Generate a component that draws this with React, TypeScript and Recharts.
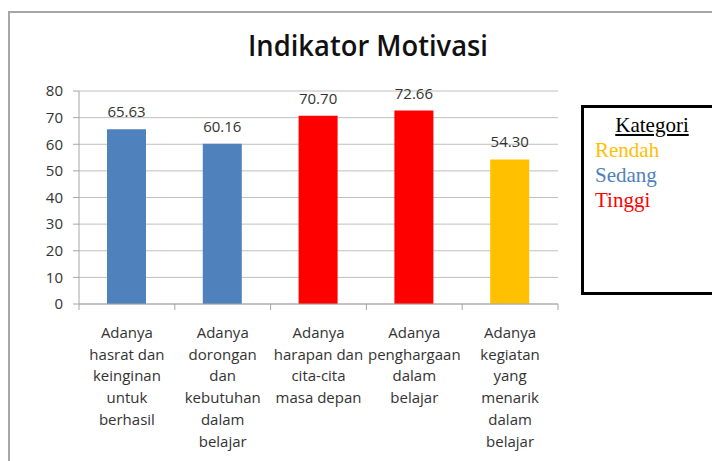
import React from 'react';
import { BarChart, Bar, XAxis, YAxis, CartesianGrid, Cell, LabelList } from 'recharts';

const categories = [
  'Adanya\nhasrat dan\nkeinginan\nuntuk\nberhasil',
  'Adanya\ndorongan\ndan\nkebutuhan\ndalam\nbelajar',
  'Adanya\nharapan dan\ncita-cita\nmasa depan',
  'Adanya\npenghargaan\ndalam\nbelajar',
  'Adanya\nkegiatan\nyang\nmenarik\ndalam\nbelajar',
];
const values = [65.63, 60.16, 70.7, 72.66, 54.3];
const levels = ['Sedang', 'Sedang', 'Tinggi', 'Tinggi', 'Rendah'];
const yTicks = [0, 10, 20, 30, 40, 50, 60, 70, 80];
const legendTitle = 'Kategori';
const legendItems = ['Rendah', 'Sedang', 'Tinggi'];
const chartTitle = 'Indikator Motivasi';

const levelColors: Record<string, string> = {
  Rendah: '#FFC000',
  Sedang: '#4F81BD',
  Tinggi: '#FF0000',
};

const data = categories.map((c, i) => ({ name: c, value: values[i], level: levels[i] }));

const W = 712;
const H = 461;
const M = { top: 91, right: 154, bottom: 7, left: 0 };
const Y_W = 79;
const X_H = 150;
const PLOT_LEFT = M.left + Y_W;
const PLOT_RIGHT = W - M.right;
const PLOT_BOTTOM = H - M.bottom - X_H;
const BAND = (PLOT_RIGHT - PLOT_LEFT) / categories.length;
const FONT = '"Open Sans", sans-serif';
const AXIS_COLOR = '#A6A6A6';
const TEXT_COLOR = '#333333';

const CategoryTick = (props: any) => {
  const { x, payload, index } = props;
  const lines = String(payload.value).split('\n');
  const last = index === categories.length - 1;
  return (
    <g>
      <line x1={x - BAND / 2} x2={x - BAND / 2} y1={PLOT_BOTTOM} y2={PLOT_BOTTOM + 6} stroke={AXIS_COLOR} />
      {last && (
        <line x1={x + BAND / 2} x2={x + BAND / 2} y1={PLOT_BOTTOM} y2={PLOT_BOTTOM + 6} stroke={AXIS_COLOR} />
      )}
      <text x={x} y={PLOT_BOTTOM + 34} textAnchor="middle" fill={TEXT_COLOR} fontFamily={FONT} fontSize={15}>
        {lines.map((l, i) => (
          <tspan key={i} x={x} dy={i === 0 ? 0 : 21.7}>
            {l}
          </tspan>
        ))}
      </text>
    </g>
  );
};

export default function App() {
  return (
    <div style={{ position: 'absolute', left: 0, top: 0, width: W, height: H, overflow: 'hidden', background: '#fff' }}>
      <div
        style={{
          position: 'absolute',
          left: 8,
          top: 11,
          width: 800,
          height: 600,
          border: '2px solid #A6A6A6',
          boxSizing: 'border-box',
        }}
      />
      <svg style={{ position: 'absolute', left: 0, top: 0 }} width={W} height={80}>
        <text
          x={368}
          y={56}
          textAnchor="middle"
          fontFamily={FONT}
          fontWeight={600}
          fontSize={29}
          fill="#111"
          textLength={240}
          lengthAdjust="spacingAndGlyphs"
        >
          {chartTitle}
        </text>
      </svg>
      <div style={{ position: 'absolute', left: 0, top: 0 }}>
        <BarChart width={W} height={H} data={data} margin={M}>
          <CartesianGrid vertical={false} stroke="#BFBFBF" />
          <XAxis
            dataKey="name"
            height={X_H}
            interval={0}
            tickLine={false}
            axisLine={{ stroke: AXIS_COLOR }}
            tick={<CategoryTick />}
          />
          <YAxis
            width={Y_W}
            domain={[0, 80]}
            ticks={yTicks}
            interval={0}
            tickSize={6}
            tickMargin={10}
            axisLine={{ stroke: AXIS_COLOR }}
            tickLine={{ stroke: AXIS_COLOR }}
            tick={{ fill: TEXT_COLOR, fontFamily: FONT, fontSize: 15 }}
          />
          <Bar dataKey="value" barSize={39} isAnimationActive={false}>
            {data.map((d, i) => (
              <Cell key={i} fill={levelColors[d.level]} />
            ))}
            <LabelList
              dataKey="value"
              position="top"
              offset={12}
              formatter={(v: any) => Number(v).toFixed(2)}
              fill={TEXT_COLOR}
              fontFamily={FONT}
              fontSize={15}
            />
          </Bar>
        </BarChart>
      </div>
      <div
        style={{
          position: 'absolute',
          left: 581,
          top: 105,
          width: 150,
          height: 190,
          border: '3px solid #000',
          boxSizing: 'border-box',
          fontFamily: '"Liberation Serif", "Times New Roman", serif',
          fontSize: 21,
        }}
      >
        <div
          style={{
            position: 'absolute',
            left: 0,
            width: 136,
            top: 5,
            textAlign: 'center',
            textDecoration: 'underline',
            color: '#000',
            lineHeight: '25px',
          }}
        >
          {legendTitle}
        </div>
        {legendItems.map((item, i) => (
          <div
            key={item}
            style={{
              position: 'absolute',
              left: 11,
              top: 30 + i * 25,
              color: levelColors[item],
              lineHeight: '25px',
            }}
          >
            {item}
          </div>
        ))}
      </div>
    </div>
  );
}
